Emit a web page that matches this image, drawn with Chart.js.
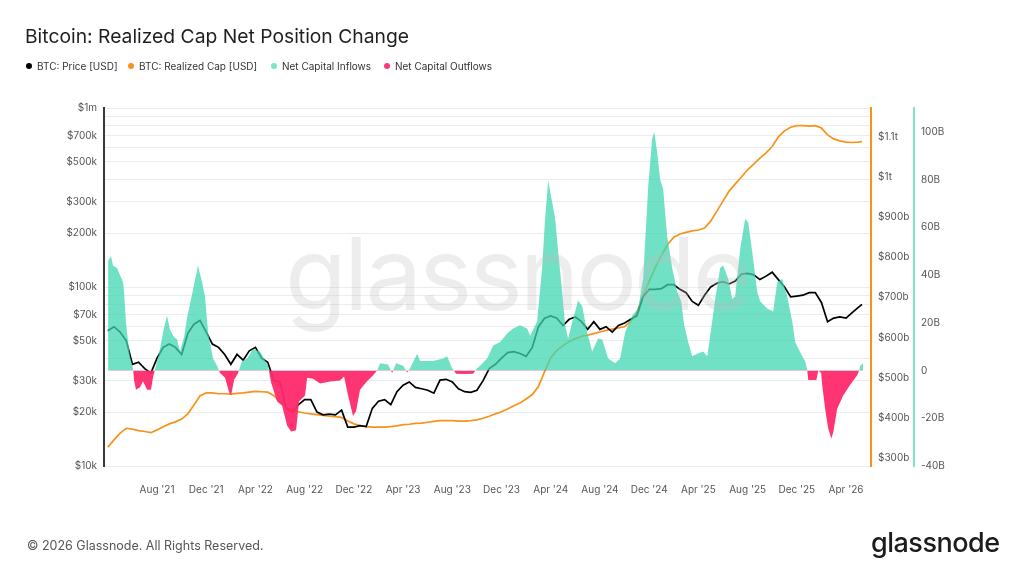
<!DOCTYPE html>
<html lang="en">
<head>
  <meta charset="UTF-8">
  <title>Bitcoin: Realized Cap Net Position Change</title>
  <script src="https://cdn.jsdelivr.net/npm/chart.js@4.4.1/dist/chart.umd.min.js"></script>
  <style>
    body { margin: 0; background: #fff; font-family: Inter, "Noto Sans", sans-serif; }
    #wrap { position: relative; width: 1024px; height: 576px; overflow: hidden; }
    #chart { position: absolute; left: 0; top: 0; }
    h1 { position: absolute; left: 25px; top: 26px; margin: 0; font-size: 19.3px; line-height: 20px; font-weight: 400; color: #1f1f1f; white-space: nowrap; }
    .item { position: absolute; top: 60px; font-size: 10px; line-height: 12px; color: #333; white-space: nowrap; }
    .item i { display: inline-block; width: 6px; height: 6px; border-radius: 50%; margin-right: 5px; vertical-align: 1px; }
    .wm { position: absolute; left: 285px; top: 214px; font-size: 101px; line-height: 118px; letter-spacing: -3px; color: rgba(190,190,190,0.28); pointer-events: none; z-index: 2; }
    .foot { position: absolute; left: 27px; top: 538px; font-size: 12.5px; line-height: 16px; color: #555; }
    .logo { position: absolute; left: 871px; top: 528px; font-size: 27px; line-height: 30px; font-weight: 500; letter-spacing: -0.5px; color: #1c1c1c; }
  </style>
</head>
<body>
<div id="wrap">
  <canvas id="chart" width="1024" height="576"></canvas>
  <h1>Bitcoin: Realized Cap Net Position Change</h1>
  <div class="item" style="left:26px"><i style="background:#000"></i>BTC: Price [USD]</div>
  <div class="item" style="left:128px"><i style="background:#F7931A"></i>BTC: Realized Cap [USD]</div>
  <div class="item" style="left:271px"><i style="background:#7EE3CB"></i>Net Capital Inflows</div>
  <div class="item" style="left:384px"><i style="background:#FF3B75"></i>Net Capital Outflows</div>
  <div class="wm">glassnode</div>
  <div class="foot">© 2026 Glassnode. All Rights Reserved.</div>
  <div class="logo">glassnode</div>
</div>

<script>
  // x values are months counted from Jan 2021 (0 = Jan '21)
  const months = [3, 3.5, 4, 4.5, 5, 5.5, 6, 6.5, 7, 7.5, 8, 8.5, 9, 9.5, 10, 10.5, 11, 11.5, 12, 12.5,
    13, 13.5, 14, 14.5, 15, 15.5, 16, 16.5, 17, 17.5, 18, 18.5, 19, 19.5, 20, 20.5, 21, 21.5, 22, 22.5,
    23, 23.5, 24, 24.5, 25, 25.5, 26, 26.5, 27, 27.5, 28, 28.5, 29, 29.5, 30, 30.5, 31, 31.5, 32, 32.5,
    33, 33.5, 34, 34.5, 35, 35.5, 36, 36.5, 37, 37.5, 38, 38.5, 39, 39.5, 40, 40.5, 41, 41.5, 42, 42.5,
    43, 43.5, 44, 44.5, 45, 45.5, 46, 46.5, 47, 47.5, 48, 48.5, 49, 49.5, 50, 50.5, 51, 51.5, 52, 52.5,
    53, 53.5, 54, 54.5, 55, 55.5, 56, 56.5, 57, 57.5, 58, 58.5, 59, 59.5, 60, 60.5, 61, 61.5, 62, 62.5,
    63, 63.5, 64, 64.3];

  // BTC price, thousands of USD
  const btcPrice = [57, 60, 56, 50, 37, 38, 35, 33, 40, 46, 48, 46, 42, 55, 62, 65, 56, 48, 46, 42,
    37, 42, 39, 44, 46, 40, 38, 30, 29.5, 21, 20, 22, 23.5, 23.5, 20, 19.3, 19.5, 19.3, 20.5, 16.5,
    16.5, 16.8, 16.6, 21, 23, 23.5, 22, 26, 28.3, 29.5, 27.5, 27, 26.5, 25.5, 30.2, 30.5, 29.5, 27, 26, 25.8,
    26.5, 30, 35, 37, 40, 43, 43.5, 42.5, 41, 46, 60, 67, 69, 67, 61, 66, 68, 64, 58, 64,
    58, 60, 56, 61, 63, 66, 69, 88, 97, 97, 98, 103, 103, 97, 93, 83, 79, 90, 100, 105,
    107, 104, 108, 118, 119, 117, 110, 115, 121, 110, 100, 88, 89, 90, 93, 93, 82, 64, 67, 68,
    67, 72, 77, 80];

  // Realized cap, billions of USD
  const realizedCap = [327, 345, 362, 374, 372, 368, 366, 363, 370, 378, 385, 390, 397, 410, 432, 455, 462, 462, 460, 460,
    459, 461, 462, 464, 466, 465, 464, 455, 440, 425, 418, 415, 412, 410, 408, 406, 404, 403, 401, 392,
    385, 381, 378, 377, 377, 377, 378, 380, 383, 384, 386, 387, 389, 391, 393, 393, 393, 392, 392, 393,
    395, 399, 404, 410, 415, 422, 430, 437, 447, 458, 478, 515, 550, 568, 580, 590, 597, 603, 606, 610,
    614, 618, 621, 624, 627, 640, 662, 705, 740, 775, 805, 832, 850, 858, 862, 866, 868, 873, 890, 915,
    940, 965, 983, 1000, 1018, 1032, 1047, 1060, 1076, 1100, 1115, 1124, 1128, 1128, 1127, 1128, 1122, 1105, 1095, 1090,
    1087, 1086, 1087, 1088];

  // Net capital flows (realized cap 30d change), billions of USD
  const flowMonths = [3.02, 3.26, 3.42, 3.75, 3.99, 4.24, 4.32, 4.48, 4.56, 4.80, 5.05, 5.13, 5.29, 5.62, 5.86, 6.19, 6.51, 6.67, 6.84,
    7.24, 7.57, 7.81, 8.06, 8.38, 8.63, 8.87, 9.20, 9.44, 9.93, 10.33, 10.66, 10.90, 11.15, 11.55, 11.88,
    12.12, 12.53, 12.85, 13.02, 13.26, 13.59, 13.91, 14.32, 14.80, 15.37, 15.70, 16.02, 16.27, 16.76, 17.16, 17.57,
    17.89, 18.30, 18.54, 19.03, 19.20, 19.68, 20.25, 21.07, 21.88, 22.20, 22.53, 22.93, 23.18, 23.50, 24.07, 24.56,
    24.89, 25.13, 25.78, 26.11, 26.43, 27.00, 27.33, 27.57, 28.14, 28.38, 29.44, 30.25, 30.58, 30.98, 31.31, 32.04,
    32.69, 33.02, 33.26, 33.83, 34.32, 34.89, 35.46, 35.94, 36.51, 37.08, 37.33, 37.89, 38.30, 38.54, 38.79, 39.11,
    39.36, 39.60, 39.93, 40.17, 40.41, 40.82, 41.23, 41.55, 41.96, 42.37, 42.85, 43.18, 43.67, 44.24, 44.64, 45.05,
    45.62, 46.11, 46.51, 46.92, 47.24, 47.41, 47.65, 47.89, 48.14, 48.46, 48.87, 49.28, 49.60, 49.85, 50.17, 50.50,
    50.90, 51.39, 51.72, 51.96, 52.37, 52.77, 53.02, 53.42, 53.75, 53.99, 54.40, 54.80, 55.05, 55.37, 55.78, 56.02,
    56.59, 57.08, 57.41, 57.81, 58.22, 58.63, 58.87, 59.44, 59.69, 59.85, 59.93, 60.59, 60.75, 60.98, 61.06, 61.30,
    61.54, 61.80, 61.96, 62.28, 62.77, 63.34, 63.91, 64.07, 64.15, 64.40];
  const netFlow = [46, 48, 44, 43, 40, 37, 33, 20, 16, 6, 1, -4, -8, -7, -4.5, -8, -8, -3, 0.5,
    9, 18, 23, 17, 14, 13, 8, 14, 22, 34, 44, 37, 31, 16, 5, 2,
    -1, -3, -9, -10.5, -4, -1, 4, 5, 9, 8, 5, 2, -5, -13, -14.6, -23,
    -25.5, -25, -13, -10.5, -3, -3.4, -5.4, -4.6, -4.2, -2.5, -10.5, -19, -17, -8, -4.5, -2,
    0, 3, 2.5, -1, 3, 2, -0.8, 1, 7, 4, 4, 5, 6, 1, -1.3, -1.5,
    -1.3, 1, 2, 5, 10.5, 12, 15.5, 17.6, 19, 17.6, 14.6, 20.5, 43, 63.6, 79.5, 70.7,
    63.6, 50, 33, 19, 13.4, 21.8, 29.3, 27, 16, 8, 13.4, 13, 5, 3, 5, 16,
    23, 26, 38.5, 77, 97, 100, 91.6, 80, 76, 56.5, 43, 33, 29, 19, 12, 6,
    7, 8, 6, 14.6, 30, 43, 44, 38.5, 30, 31, 51, 63.6, 62, 50, 33, 29,
    26, 24.7, 37, 38.5, 31, 20.5, 12, 6, 3.8, 0, -4, -4, 0, -1, -6, -16,
    -24, -28.5, -26, -16, -10.5, -6, -2, 0, 2, 3];

  // axis ticks
  const xTickMonths = [7, 11, 15, 19, 23, 27, 31, 35, 39, 43, 47, 51, 55, 59, 63];
  const xTickLabels = ["Aug '21", "Dec '21", "Apr '22", "Aug '22", "Dec '22", "Apr '23", "Aug '23", "Dec '23",
    "Apr '24", "Aug '24", "Dec '24", "Apr '25", "Aug '25", "Dec '25", "Apr '26"];
  const priceGrid = [10, 20, 30, 40, 50, 60, 70, 80, 90, 100, 200, 300, 400, 500, 600, 700, 800, 900, 1000];
  const priceTickValues = [10, 20, 30, 50, 70, 100, 200, 300, 500, 700, 1000];
  const priceTickLabels = ['$10k', '$20k', '$30k', '$50k', '$70k', '$100k', '$200k', '$300k', '$500k', '$700k', '$1m'];
  const capTickValues = [300, 400, 500, 600, 700, 800, 900, 1000, 1100];
  const capTickLabels = ['$300b', '$400b', '$500b', '$600b', '$700b', '$800b', '$900b', '$1t', '$1.1t'];
  const flowTickValues = [-40, -20, 0, 20, 40, 60, 80, 100];
  const flowTickLabels = ['-40B', '-20B', '0', '20B', '40B', '60B', '80B', '100B'];

  const ORANGE = '#F7931A';
  const TEAL = 'rgba(62, 214, 177, 0.74)';
  const RED = 'rgba(255, 42, 108, 0.95)';
  const TICK_FONT = { size: 10 };

  Chart.defaults.font.family = 'Inter, "Noto Sans", sans-serif';
  Chart.defaults.color = '#555';

  const pairs = (xs, ys) => xs.map((x, i) => ({ x: x, y: ys[i] }));
  const fixedTicks = values => scale => { scale.ticks = values.map(v => ({ value: v })); };
  const labelFor = (values, labels) => v => { const i = values.indexOf(v); return i < 0 ? '' : labels[i]; };

  new Chart(document.getElementById('chart'), {
    type: 'line',
    data: {
      datasets: [
        {
          label: 'Net Capital Flows',
          data: pairs(flowMonths, netFlow),
          yAxisID: 'yFlow',
          borderColor: 'transparent',
          borderWidth: 0,
          pointRadius: 0,
          fill: { target: 'origin', above: TEAL, below: RED }
        },
        {
          label: 'BTC: Price [USD]',
          data: pairs(months, btcPrice),
          yAxisID: 'y',
          borderColor: '#000',
          borderWidth: 1.7,
          pointRadius: 0
        },
        {
          label: 'BTC: Realized Cap [USD]',
          data: pairs(months, realizedCap),
          yAxisID: 'yCap',
          borderColor: ORANGE,
          borderWidth: 1.7,
          pointRadius: 0
        }
      ]
    },
    options: {
      responsive: false,
      animation: false,
      devicePixelRatio: 1,
      layout: { padding: { left: 0, right: 50, top: 108, bottom: 80 } },
      plugins: { legend: { display: false }, tooltip: { enabled: false } },
      scales: {
        x: {
          type: 'linear', min: 2.69, max: 65.03,
          afterBuildTicks: fixedTicks(xTickMonths),
          afterFit: s => { s.height = 30; },
          grid: { display: false },
          border: { display: false },
          ticks: { callback: labelFor(xTickMonths, xTickLabels), font: TICK_FONT, padding: 10, maxRotation: 0, autoSkip: false }
        },
        y: {
          type: 'logarithmic', position: 'left', min: 10, max: 1000,
          afterBuildTicks: fixedTicks(priceGrid),
          afterFit: s => { s.width = 104; },
          grid: { color: '#ececf0', drawTicks: false },
          border: { color: '#3a3a3a', width: 2 },
          ticks: { callback: labelFor(priceTickValues, priceTickLabels), font: TICK_FONT, padding: 7, autoSkip: false }
        },
        yCap: {
          type: 'linear', position: 'right', min: 280, max: 1172, weight: 0,
          afterBuildTicks: fixedTicks(capTickValues),
          afterFit: s => { s.width = 43; },
          grid: { display: false, drawTicks: false },
          border: { color: ORANGE, width: 2 },
          ticks: { callback: labelFor(capTickValues, capTickLabels), font: TICK_FONT, padding: 7, autoSkip: false }
        },
        yFlow: {
          type: 'linear', position: 'right', min: -40, max: 110, weight: 1,
          afterBuildTicks: fixedTicks(flowTickValues),
          afterFit: s => { s.width = 60; },
          grid: { display: false, drawTicks: false },
          border: { color: '#7EE3CB', width: 2 },
          ticks: { callback: labelFor(flowTickValues, flowTickLabels), font: TICK_FONT, padding: 7, autoSkip: false }
        }
      }
    }
  });
</script>
</body>
</html>
